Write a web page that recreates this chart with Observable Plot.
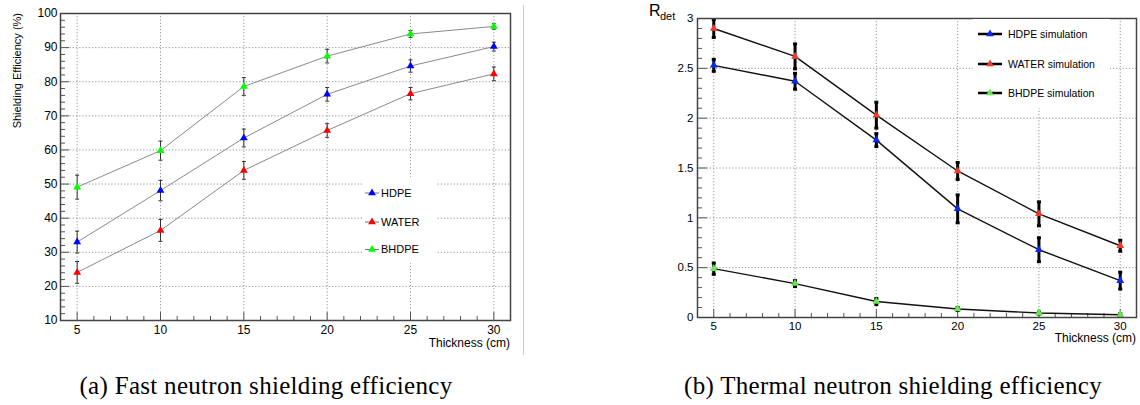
<!DOCTYPE html>
<html><head><meta charset="utf-8">
<script src="https://cdn.jsdelivr.net/npm/d3@7"></script>
<script src="https://cdn.jsdelivr.net/npm/@observablehq/plot@0.6"></script>
<style>
body{margin:0;background:#fff;}
#root{position:relative;width:1140px;height:405px;overflow:hidden;font-family:"Liberation Sans",Arial,sans-serif;color:#000;}
.abs{position:absolute;white-space:nowrap;line-height:1;}
.cap{font-family:"Liberation Serif","Times New Roman",serif;font-size:25px;line-height:25px;letter-spacing:0.3px;text-align:center;}
</style></head><body><div id="root"></div>
<script>
// ---- data ----
const thickness = [5, 10, 15, 20, 25, 30];
const seriesNames = ["HDPE", "WATER", "BHDPE"];

// (a) fast neutron shielding efficiency (%)
const fastHDPE = [33.0, 48.1, 63.5, 76.3, 84.6, 90.3];
const fastWATER = [24.1, 36.4, 54.0, 65.7, 76.5, 82.3];
const fastBHDPE = [49.1, 59.8, 78.6, 87.5, 94.0, 96.2];
const fastHDPEErr = [3.2, 3.0, 2.6, 2.0, 1.8, 1.3];
const fastWATERErr = [3.2, 3.2, 2.6, 2.0, 1.8, 2.0];
const fastBHDPEErr = [3.5, 2.8, 2.6, 2.0, 1.0, 0.8];

// (b) thermal neutron R_det
const thermalHDPE = [2.53, 2.37, 1.78, 1.09, 0.68, 0.37];
const thermalWATER = [2.90, 2.62, 2.03, 1.47, 1.04, 0.72];
const thermalBHDPE = [0.49, 0.34, 0.16, 0.085, 0.045, 0.027];
const thermalHDPEErr = [0.06, 0.08, 0.065, 0.14, 0.12, 0.085];
const thermalWATERErr = [0.09, 0.125, 0.13, 0.085, 0.12, 0.055];
const thermalBHDPEErr = [0.057, 0.03, 0.03, 0.015, 0.01, 0.01];

// ticks
const xTicks = [5, 10, 15, 20, 25, 30];
const fastYTicks = [10, 20, 30, 40, 50, 60, 70, 80, 90, 100];
const fastYGrid = [20, 30, 40, 50, 60, 70, 80, 90];
const thermalYTicks = [0, 0.5, 1, 1.5, 2, 2.5, 3];
const thermalYGrid = [0.5, 1, 1.5, 2, 2.5];

const fastColors = ["#0000ff", "#ff0000", "#00ff00"];
const thermalColors = ["#0a28f0", "#ef3b2a", "#66e650"];
const fastLegend = ["HDPE", "WATER", "BHDPE"];
const thermalLegend = ["HDPE simulation", "WATER simulation", "BHDPE simulation"];

// ---- build rows ----
function rows(vals, errs) { return thickness.map((t, i) => ({t, v: vals[i], e: errs[i]})); }
const fastRows = [rows(fastHDPE, fastHDPEErr), rows(fastWATER, fastWATERErr), rows(fastBHDPE, fastBHDPEErr)];
const thermalRows = [rows(thermalHDPE, thermalHDPEErr), rows(thermalWATER, thermalWATERErr), rows(thermalBHDPE, thermalBHDPEErr)];

const xMinor = d3.range(4, 32, 1).filter(d => d % 5 !== 0);
const fastYMinor = d3.range(10, 101, 2).filter(d => d % 10 !== 0);
const thermalYMinor = d3.range(0, 31, 1).filter(d => d % 5 !== 0).map(d => d / 10);

const capSym = {draw(ctx, size) { const w = Math.sqrt(size / Math.PI); ctx.moveTo(-w, 0); ctx.lineTo(w, 0); }};

const root = document.getElementById("root");
const font = '"Liberation Sans", Arial, sans-serif';

function panel(o) {
  const ph = o.H - o.m.top - o.m.bottom, pw = o.W - o.m.left - o.m.right;
  const marks = [
    Plot.ruleX(xTicks, {x: d => d, stroke: "#888", strokeWidth: 0.9, strokeDasharray: "1.2,2"}),
    Plot.ruleY(o.yGrid, {y: d => d, stroke: "#888", strokeWidth: 0.9, strokeDasharray: "1.2,2"}),
    Plot.tickX(xMinor, {x: d => d, insetTop: ph - 4, stroke: "#555"}),
    Plot.tickX(xTicks, {x: d => d, insetTop: ph - 8, stroke: "#555"}),
    Plot.tickY(o.yMinor, {y: d => d, insetRight: pw - o.minLen, stroke: "#555"}),
    Plot.tickY(o.yTicks, {y: d => d, insetRight: pw - o.majLen, stroke: "#555"})
  ];
  o.data.forEach((r, i) => {
    marks.push(Plot.line(r, {x: "t", y: "v", stroke: o.lineColor, strokeWidth: o.lineWidth, curve: o.curve}));
  });
  o.data.forEach((r, i) => {
    marks.push(Plot.ruleX(r, {x: "t", y1: d => d.v - d.e, y2: d => d.v + d.e, stroke: o.errColor, strokeWidth: o.errWidth}));
    marks.push(Plot.dot(r, {x: "t", y: d => d.v - d.e, symbol: capSym, r: o.capR, stroke: o.errColor, strokeWidth: o.errWidth, fill: "none"}));
    marks.push(Plot.dot(r, {x: "t", y: d => d.v + d.e, symbol: capSym, r: o.capR, stroke: o.errColor, strokeWidth: o.errWidth, fill: "none"}));
  });
  o.data.forEach((r, i) => {
    marks.push(Plot.dot(r, {x: "t", y: "v", symbol: "triangle", r: 2.9, fill: o.colors[i], stroke: "none"}));
  });
  marks.push(Plot.frame({stroke: "#444", strokeWidth: 1.5}));
  const svg = Plot.plot({
    width: o.W, height: o.H,
    marginTop: o.m.top, marginRight: o.m.right, marginBottom: o.m.bottom, marginLeft: o.m.left,
    style: {fontFamily: font, fontSize: o.fontSize, color: "#000", background: "transparent", overflow: "visible"},
    x: {domain: [4, 31], ticks: xTicks, tickSize: 0, tickPadding: o.xPad, tickFormat: d => String(d), label: null},
    y: {domain: o.yDomain, ticks: o.yTicks, tickSize: 0, tickPadding: o.yPad, tickFormat: d => String(d), label: null},
    marks
  });
  svg.style.position = "absolute";
  svg.style.left = o.left + "px";
  svg.style.top = "0px";
  root.appendChild(svg);
}

panel({left: 0, W: 520, H: 350, m: {top: 13, right: 10, bottom: 30, left: 60},
  yDomain: [10, 100], yTicks: fastYTicks, yGrid: fastYGrid, yMinor: fastYMinor, minLen: 5, majLen: 9,
  data: fastRows, colors: fastColors, lineColor: "#8a8a8a", lineWidth: 1, curve: "linear",
  errColor: "#333", errWidth: 1, capR: 2, fontSize: "12px", xPad: 5, yPad: 3});

panel({left: 600, W: 540, H: 350, m: {top: 18, right: 4, bottom: 33, left: 97},
  yDomain: [0, 3], yTicks: thermalYTicks, yGrid: thermalYGrid, yMinor: thermalYMinor, minLen: 5, majLen: 10,
  data: thermalRows, colors: thermalColors, lineColor: "#111", lineWidth: 1.4, curve: "linear",
  errColor: "#000", errWidth: 3, capR: 2, fontSize: "11.5px", xPad: 4, yPad: 4});

// ---- html text & legends ----
function addDiv(html, style) {
  const d = document.createElement("div");
  d.className = "abs";
  d.innerHTML = html;
  Object.assign(d.style, style);
  root.appendChild(d);
  return d;
}
// separator
addDiv("", {left: "522.5px", top: "5px", width: "1.5px", height: "350px", background: "#cccccc"});

// axis titles
addDiv("Thickness (cm)", {right: (1140 - 510) + "px", top: "336.5px", fontSize: "12px"});
addDiv("Thickness (cm)", {right: (1140 - 1136) + "px", top: "331.5px", fontSize: "12px"});
addDiv("Shielding Efficiency (%)", {left: "0px", top: "0px", fontSize: "11px", transformOrigin: "0 0",
  transform: "translate(12px, 13px) rotate(-90deg) translateX(-100%)"});
addDiv("R", {left: "649px", top: "2.5px", fontSize: "16px"});
addDiv("det", {left: "660px", top: "10.5px", fontSize: "11px"});

// legends
function legend(box, names, colors, o) {
  const b = addDiv("", {left: box.x + "px", top: box.y + "px", width: box.w + "px", height: box.h + "px", background: "#fff"});
  const ns = "http://www.w3.org/2000/svg";
  const svg = document.createElementNS(ns, "svg");
  svg.setAttribute("width", box.w); svg.setAttribute("height", box.h);
  svg.style.position = "absolute"; svg.style.left = "0px"; svg.style.top = "0px";
  const tri = d3.symbol(d3.symbolTriangle, Math.PI * 2.9 * 2.9)();
  names.forEach((n, i) => {
    const cy = o.rows[i] - box.y;
    const l = document.createElementNS(ns, "line");
    l.setAttribute("x1", o.lx1 - box.x); l.setAttribute("x2", o.lx2 - box.x);
    l.setAttribute("y1", cy); l.setAttribute("y2", cy);
    l.setAttribute("stroke", o.lineColor); l.setAttribute("stroke-width", o.lineWidth);
    svg.appendChild(l);
    const p = document.createElementNS(ns, "path");
    p.setAttribute("d", tri);
    p.setAttribute("transform", `translate(${o.mx - box.x},${cy})`);
    p.setAttribute("fill", colors[i]);
    svg.appendChild(p);
    addDiv(n, {left: o.tx + "px", top: (o.rows[i] - o.fs * 0.488) + "px", fontSize: o.fs + "px"});
  });
  b.appendChild(svg);
}
legend({x: 363, y: 177, w: 74, h: 86}, fastLegend, fastColors,
  {rows: [193, 222, 249.5], lx1: 365, lx2: 379, mx: 372, tx: 381, fs: 11, lineColor: "#777", lineWidth: 1});
legend({x: 973, y: 19, w: 137, h: 89}, thermalLegend, thermalColors,
  {rows: [34, 64, 93], lx1: 978, lx2: 1002, mx: 990, tx: 1008, fs: 10.5, lineColor: "#000", lineWidth: 2.5});

// captions
addDiv("(a) Fast neutron shielding efficiency", {left: "46px", width: "440px", top: "373px"}).className = "abs cap";
addDiv("(b) Thermal neutron shielding efficiency", {left: "653px", width: "480px", top: "373px"}).className = "abs cap";
</script>
</body></html>
